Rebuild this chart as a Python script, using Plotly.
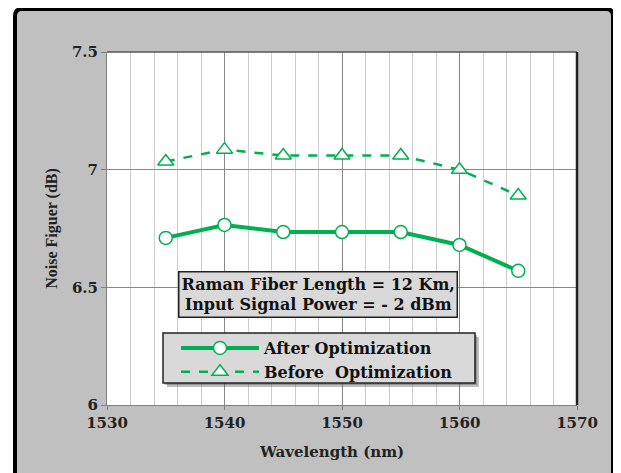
import plotly.graph_objects as go

wavelength = [1535, 1540, 1545, 1550, 1555, 1560, 1565]
after_opt = [6.71, 6.765, 6.735, 6.735, 6.735, 6.68, 6.57]
before_opt = [7.035, 7.085, 7.06, 7.06, 7.06, 7.0, 6.89]
x_ticks = [1530, 1540, 1550, 1560, 1570]
y_ticks = [6, 6.5, 7, 7.5]
y_tick_text = ["6", "6.5", "7", "7.5"]

green = "#00B050"
wide_font = "DejaVu Serif, serif"
tall_font = "Liberation Serif, Times New Roman, serif"

fig = go.Figure()
fig.add_trace(go.Scatter(
    x=wavelength, y=after_opt, mode="lines+markers", name="<b>After Optimization</b>",
    line=dict(color=green, width=4),
    marker=dict(symbol="circle", size=13, color="white", line=dict(color=green, width=1.5)),
))
fig.add_trace(go.Scatter(
    x=wavelength, y=before_opt, mode="lines+markers", name="<b>Before  Optimization</b>",
    line=dict(color=green, width=2.5, dash="dash"),
    marker=dict(symbol="triangle-up", size=14, color="white", line=dict(color=green, width=1.5)),
))

# page body has an 8px margin; plot area is positioned accordingly
W, H = 613, 465
L, T = 99, 44
pw, ph = 470, 353
R = W - L - pw
B = H - T - ph

def px(xp):
    return (xp - 107) / pw

def py(yp):
    return (405 - yp) / ph

# rounded outer frame path (reference pixel coords -> paper coords)
fx0, fx1, fy0, fy1, rr = 15, 613, 9, 490, 7
frame_path = (
    f"M {px(fx0 + rr)},{py(fy0)} L {px(fx1 - rr)},{py(fy0)} "
    f"Q {px(fx1)},{py(fy0)} {px(fx1)},{py(fy0 + rr)} "
    f"L {px(fx1)},{py(fy1 - rr)} Q {px(fx1)},{py(fy1)} {px(fx1 - rr)},{py(fy1)} "
    f"L {px(fx0 + rr)},{py(fy1)} Q {px(fx0)},{py(fy1)} {px(fx0)},{py(fy1 - rr)} "
    f"L {px(fx0)},{py(fy0 + rr)} Q {px(fx0)},{py(fy0)} {px(fx0 + rr)},{py(fy0)} Z"
)

fig.update_layout(
    width=W, height=H,
    margin=dict(l=L, r=R, t=T, b=B),
    paper_bgcolor="white",
    plot_bgcolor="white",
    font=dict(family=wide_font, size=14, color="#222"),
    showlegend=True,
    legend=dict(
        x=px(176), y=py(331), xanchor="left", yanchor="top",
        bgcolor="rgba(0,0,0,0)", borderwidth=0,
        font=dict(family=wide_font, size=16, color="#111"),
        itemwidth=78, tracegroupgap=0,
    ),
    xaxis=dict(
        range=[1530, 1570], tickvals=x_ticks, ticktext=[f"<b>{v}</b>" for v in x_ticks],
        showgrid=True, gridcolor="#888888", gridwidth=1,
        minor=dict(dtick=2, showgrid=True, gridcolor="#CDCDCD", gridwidth=1),
        ticks="outside", ticklen=4, tickcolor="#808080",
        showline=True, linecolor="#808080", linewidth=1, mirror=False,
        zeroline=False,
        tickfont=dict(family=wide_font, size=15),
    ),
    yaxis=dict(
        range=[6, 7.5], tickvals=y_ticks, ticktext=[f"<b>{t}</b>" for t in y_tick_text],
        showgrid=True, gridcolor="#888888", gridwidth=1,
        ticks="outside", ticklen=5, tickcolor="#808080",
        showline=True, linecolor="#808080", linewidth=1,
        zeroline=False,
        title=dict(text="<b>Noise Figuer (dB)</b>", font=dict(family=tall_font, size=16), standoff=10),
        tickfont=dict(family=wide_font, size=15),
    ),
    shapes=[
        # outer gray panel with black rounded frame
        dict(type="path", xref="paper", yref="paper", path=frame_path,
             fillcolor="#C0C0C0", line=dict(color="black", width=4), layer="below"),
        # white plot area
        dict(type="rect", xref="paper", yref="paper", x0=0, x1=1, y0=0, y1=1,
             fillcolor="white", line=dict(width=0), layer="below"),
        # plot area top/right border
        dict(type="line", xref="paper", yref="paper", x0=0, x1=1, y0=1, y1=1,
             line=dict(color="#555", width=1.5), layer="above"),
        dict(type="line", xref="paper", yref="paper", x0=1, x1=1, y0=0, y1=1,
             line=dict(color="#222", width=2.5), layer="above"),
        # legend shadow
        dict(type="rect", xref="paper", yref="paper",
             x0=px(167), x1=px(479), y0=py(387), y1=py(337),
             fillcolor="rgba(70,70,70,0.35)", line=dict(width=0), layer="above"),
        dict(type="rect", xref="paper", yref="paper",
             x0=px(165), x1=px(477), y0=py(385), y1=py(335),
             fillcolor="rgba(70,70,70,0.35)", line=dict(width=0), layer="above"),
        # legend box
        dict(type="rect", xref="paper", yref="paper",
             x0=px(163), x1=px(475), y0=py(383), y1=py(333),
             fillcolor="#D9D9D9", line=dict(color="#222", width=1.5), layer="above"),
    ],
    annotations=[
        dict(
            xref="paper", yref="paper", x=px(318), y=py(294),
            text="<b>Raman Fiber Length = 12 Km,<br>Input Signal Power = - 2 dBm</b>",
            showarrow=False, font=dict(family=wide_font, size=16, color="#111"),
            bgcolor="#D9D9D9", bordercolor="#222", borderwidth=1.5, borderpad=2,
            xanchor="center", yanchor="middle",
        ),
        dict(
            xref="paper", yref="paper", x=px(331), y=py(452),
            text="<b>Wavelength (nm)</b>",
            showarrow=False, font=dict(family=wide_font, size=15, color="#222"),
            xanchor="center", yanchor="middle",
        ),
    ],
)

fig.write_html("out.html")
